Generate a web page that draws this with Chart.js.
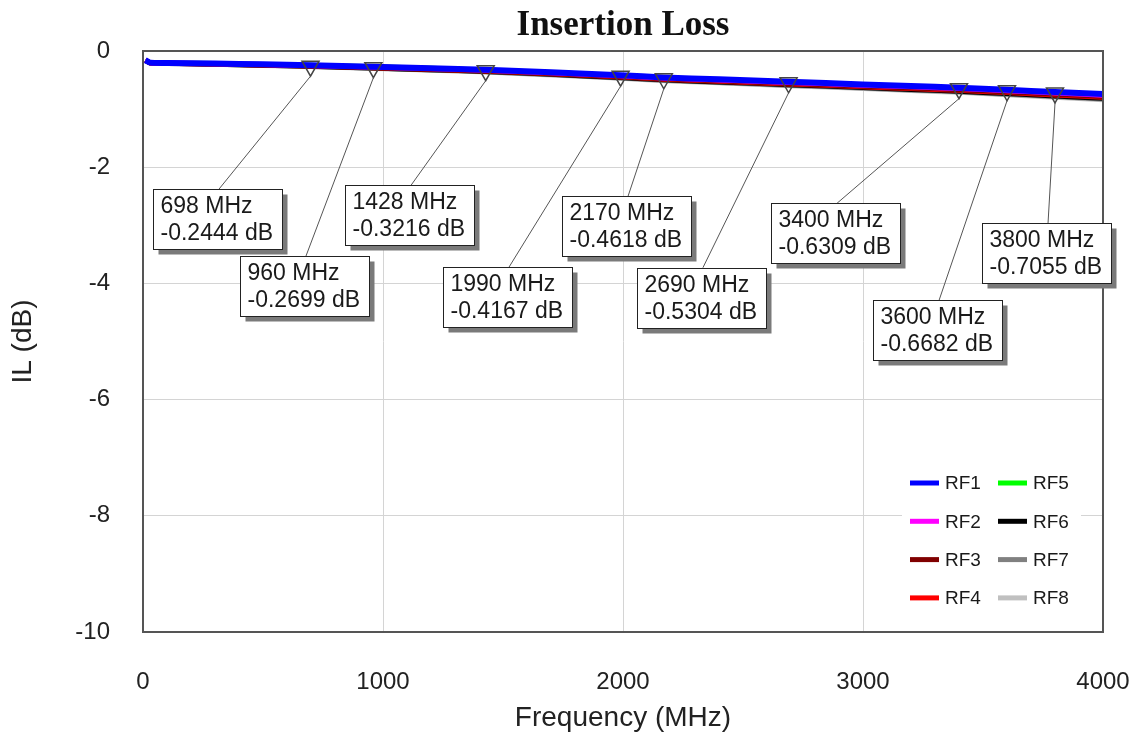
<!DOCTYPE html>
<html>
<head>
<meta charset="utf-8">
<title>Insertion Loss</title>
<script src="https://cdn.jsdelivr.net/npm/chart.js@4.4.1/dist/chart.umd.min.js"></script>
<style>
  html, body { margin: 0; padding: 0; background: #fff; }
  #wrap { width: 1141px; height: 736px; }
</style>
</head>
<body>
<div id="wrap"><canvas id="myChart"></canvas></div>
<script>
    // frequency points (MHz)
    const freqs = [10, 30, 100, 300, 500, 698, 960, 1200, 1428, 1700, 1990, 2170, 2400, 2690, 3000, 3200, 3400, 3600, 3800, 4000];

    // insertion loss per port (dB)
    const rf1 = [-0.16, -0.200, -0.205, -0.215, -0.230, -0.244, -0.270, -0.295, -0.322, -0.366, -0.417, -0.455, -0.488, -0.530, -0.575, -0.603, -0.631, -0.668, -0.706, -0.742];
    const rf2 = [-0.16, -0.202, -0.207, -0.218, -0.234, -0.249, -0.276, -0.302, -0.330, -0.375, -0.427, -0.465, -0.499, -0.542, -0.588, -0.617, -0.646, -0.684, -0.722, -0.760];
    const rf3 = [-0.16, -0.204, -0.210, -0.222, -0.239, -0.255, -0.284, -0.311, -0.340, -0.386, -0.440, -0.479, -0.514, -0.558, -0.605, -0.635, -0.665, -0.704, -0.743, -0.782];
    const rf4 = [-0.16, -0.205, -0.211, -0.224, -0.241, -0.258, -0.288, -0.316, -0.345, -0.392, -0.447, -0.486, -0.522, -0.567, -0.615, -0.646, -0.677, -0.716, -0.756, -0.796];
    const rf5 = [-0.16, -0.201, -0.206, -0.217, -0.232, -0.247, -0.273, -0.299, -0.326, -0.371, -0.423, -0.461, -0.494, -0.537, -0.583, -0.611, -0.640, -0.677, -0.715, -0.752];
    const rf6 = [-0.16, -0.206, -0.213, -0.227, -0.245, -0.263, -0.294, -0.323, -0.353, -0.401, -0.457, -0.497, -0.534, -0.580, -0.629, -0.661, -0.693, -0.733, -0.774, -0.815];
    const rf7 = [-0.16, -0.207, -0.214, -0.228, -0.247, -0.265, -0.297, -0.327, -0.357, -0.406, -0.463, -0.503, -0.541, -0.588, -0.638, -0.670, -0.702, -0.743, -0.784, -0.826];
    const rf8 = [-0.16, -0.208, -0.215, -0.230, -0.249, -0.268, -0.300, -0.331, -0.362, -0.411, -0.469, -0.510, -0.548, -0.596, -0.647, -0.679, -0.712, -0.753, -0.795, -0.837];

    const seriesNames = ['RF1', 'RF2', 'RF3', 'RF4', 'RF5', 'RF6', 'RF7', 'RF8'];
    const seriesData = [rf1, rf2, rf3, rf4, rf5, rf6, rf7, rf8];
    const seriesColors = ['#0000ff', '#ff00ff', '#800000', '#ff0000', '#00ff00', '#000000', '#808080', '#c0c0c0'];

    // marker readouts
    const markerFreqs = [698, 960, 1428, 1990, 2170, 2690, 3400, 3600, 3800];
    const markerValues = [-0.2444, -0.2699, -0.3216, -0.4167, -0.4618, -0.5304, -0.6309, -0.6682, -0.7055];

    // axis ticks
    const xTicks = [0, 1000, 2000, 3000, 4000];
    const yTicks = [0, -2, -4, -6, -8, -10];

    // top-left corner of each readout box, in axis units (MHz, dB)
    const boxAnchors = [
      [42, -2.375], [404, -3.53], [842, -2.31], [1250, -3.72], [1746, -2.50],
      [2058, -3.73], [2617, -2.62], [3042, -4.29], [3496, -2.96]
    ];

    const datasets = seriesNames.map((name, i) => ({
      label: name,
      data: freqs.map((f, k) => ({ x: f, y: seriesData[i][k] })),
      borderColor: seriesColors[i],
      backgroundColor: seriesColors[i],
      borderWidth: i === 0 ? 6 : 5,
      pointRadius: 0,
      tension: 0.2,
      fill: false,
    }));

    // frame, marker triangles, leader lines and readout boxes
    const readouts = {
      id: 'readouts',
      afterDatasetsDraw(chart) {
        const { ctx, chartArea: { left, right, top, bottom }, scales: { x, y } } = chart;
        ctx.save();
        ctx.strokeStyle = '#555';
        ctx.lineWidth = 2;
        ctx.strokeRect(left, top, right - left, bottom - top);

        markerFreqs.forEach((f, i) => {
          const px = x.getPixelForValue(f);
          const py = y.getPixelForValue(markerValues[i]);
          const bx = x.getPixelForValue(boxAnchors[i][0]);
          const by = y.getPixelForValue(boxAnchors[i][1]);
          ctx.beginPath();
          ctx.moveTo(px - 8.5, py - 4);
          ctx.lineTo(px + 8.5, py - 4);
          ctx.lineTo(px, py + 11);
          ctx.closePath();
          ctx.strokeStyle = '#444';
          ctx.lineWidth = 1.5;
          ctx.stroke();

          ctx.beginPath();
          ctx.moveTo(px, py + 11);
          ctx.lineTo(bx + 66, by);
          ctx.strokeStyle = '#555';
          ctx.lineWidth = 1;
          ctx.stroke();
        });

        ctx.font = "23px 'Liberation Sans', Arial, sans-serif";
        ctx.textAlign = 'left';
        ctx.textBaseline = 'middle';
        markerFreqs.forEach((f, i) => {
          const bx = Math.round(x.getPixelForValue(boxAnchors[i][0])) + 0.5;
          const by = Math.round(y.getPixelForValue(boxAnchors[i][1])) + 0.5;
          const w = 129, h = 60;
          ctx.fillStyle = '#7a7a7a';
          ctx.fillRect(bx + 5, by + 5, w, h);
          ctx.fillStyle = '#fff';
          ctx.fillRect(bx, by, w, h);
          ctx.strokeStyle = '#222';
          ctx.lineWidth = 1;
          ctx.strokeRect(bx, by, w, h);
          ctx.fillStyle = '#1a1a1a';
          ctx.fillText(f + ' MHz', bx + 7, by + 17);
          ctx.fillText(markerValues[i].toFixed(4) + ' dB', bx + 7, by + 44);
        });
        ctx.restore();
      },
    };

    // legend inside the plot, two columns
    const innerLegend = {
      id: 'innerLegend',
      afterDraw(chart) {
        const { ctx, chartArea: { right, bottom } } = chart;
        ctx.save();
        ctx.fillStyle = '#fff';
        ctx.fillRect(right - 201, bottom - 167, 179, 150);
        ctx.font = "19px 'Liberation Sans', Arial, sans-serif";
        ctx.textAlign = 'left';
        ctx.textBaseline = 'middle';
        chart.data.datasets.forEach((ds, i) => {
          const col = Math.floor(i / 4);
          const row = i % 4;
          const sx = right - 193 + col * 88;
          const sy = bottom - 149 + row * 38.3;
          ctx.strokeStyle = ds.borderColor;
          ctx.lineWidth = 5;
          ctx.beginPath();
          ctx.moveTo(sx, sy);
          ctx.lineTo(sx + 29, sy);
          ctx.stroke();
          ctx.fillStyle = '#1a1a1a';
          ctx.fillText(ds.label, sx + 35, sy + 1);
        });
        ctx.restore();
      },
    };

    const config = {
      type: 'line',
      data: { datasets },
      options: {
        responsive: true,
        maintainAspectRatio: false,
        animation: false,
        layout: { padding: { left: 0, right: 0, top: 0, bottom: 0 } },
        plugins: {
          legend: { display: false },
          tooltip: { enabled: false },
          title: {
            display: true,
            text: 'Insertion Loss',
            fullSize: false,
            color: '#111',
            font: { family: "'Liberation Serif', 'Times New Roman', serif", size: 35, weight: 'bold' },
            padding: { top: 5, bottom: 4 },
          },
        },
        scales: {
          x: {
            type: 'linear',
            min: 0,
            max: 4000,
            afterBuildTicks: (scale) => { scale.ticks = xTicks.map(v => ({ value: v })); },
            afterFit: (scale) => {
              scale.height = 104;
              scale.paddingLeft = 0;
              scale.paddingRight = 38;
            },
            grid: { color: '#d4d4d4', lineWidth: 1, drawTicks: false },
            border: { display: false },
            ticks: {
              padding: 36,
              color: '#222',
              maxRotation: 0,
              callback: (v) => String(v),
              font: { family: "'Liberation Sans', Arial, sans-serif", size: 24 },
            },
            title: {
              display: true,
              text: 'Frequency (MHz)',
              color: '#222',
              font: { family: "'Liberation Sans', Arial, sans-serif", size: 28 },
              padding: { top: 0, bottom: 1 },
            },
          },
          y: {
            min: -10,
            max: 0,
            afterBuildTicks: (scale) => { scale.ticks = yTicks.map(v => ({ value: v })); },
            afterFit: (scale) => { scale.width = 143; },
            grid: { color: '#d4d4d4', lineWidth: 1, drawTicks: false },
            border: { display: false },
            ticks: {
              padding: 33,
              color: '#222',
              callback: (v) => String(v),
              font: { family: "'Liberation Sans', Arial, sans-serif", size: 24 },
            },
            title: {
              display: true,
              text: 'IL (dB)',
              color: '#222',
              font: { family: "'Liberation Sans', Arial, sans-serif", size: 28 },
              padding: { top: 6, bottom: 0 },
            },
          },
        },
      },
      plugins: [readouts, innerLegend],
    };

    const myChart = new Chart(document.getElementById('myChart'), config);
</script>
</body>
</html>
